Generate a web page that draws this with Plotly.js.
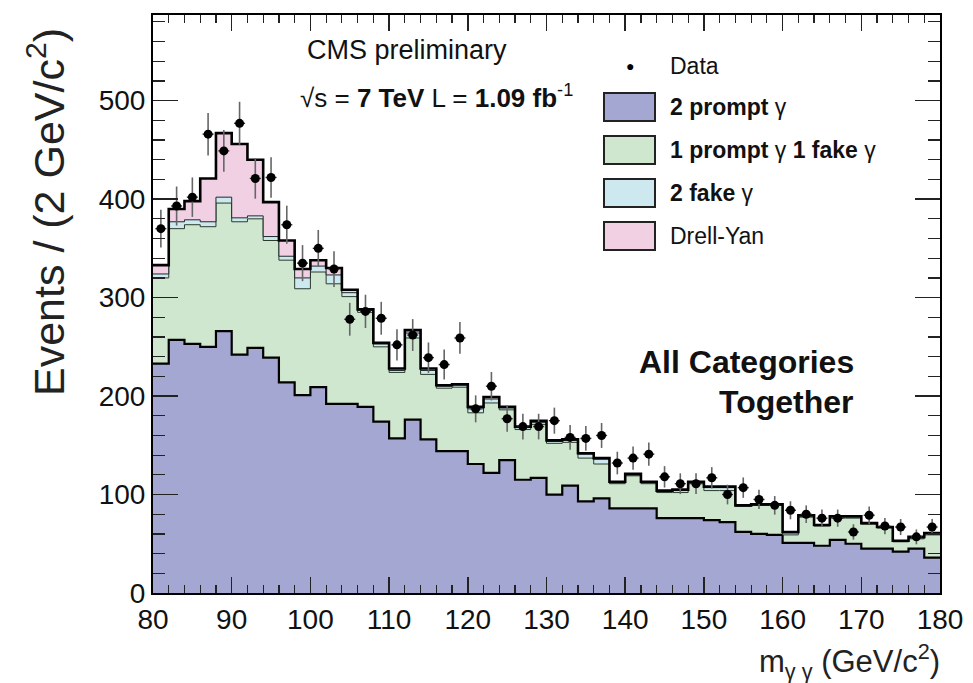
<!DOCTYPE html>
<html>
<head>
<meta charset="utf-8">
<script src="https://cdn.plot.ly/plotly-3.0.1.min.js"></script>
<style>html,body{margin:0;padding:0;background:#fff;}#chart{width:973px;height:683px;}</style>
</head>
<body>
<div id="chart"></div>
<script>
// Bin left edges (GeV/c^2), 2 GeV bins from 80 to 180
const binLow = [80,82,84,86,88,90,92,94,96,98,100,102,104,106,108,110,112,114,116,118,120,122,124,126,128,130,132,134,136,138,140,142,144,146,148,150,152,154,156,158,160,162,164,166,168,170,172,174,176,178];
const binWidth = 2;

// Stacked components (events per bin)
const twoPrompt = [233,257,253,250,266,242,249,239,214,201,209,192,192,189,174,157,176,156,144,144,131,122,135,115,117,100,109,93,96,86,86,86,76,76,76,74,72,62,60,59,51,51,48,54,50,45,45,42,45,36];
const onePromptOneFake = [87,113,121,122,130,135,131,119,124,108,117,122,109,96,76,67,83,66,64,65,52,71,51,51,54,52,44,44,35,25,33,25,26,26,35,30,32,26,29,30,8,26,20,22,26,25,21,10,10,23];
const twoFake = [4,7,5,5,6,4,3,4,4,11,6,9,4,2,3,2,5,4,2,2,4,4,2,2,2,2,2,4,5,1,1,1,1,2,1,3,3,1,1,1,2,1,1,1,1,1,1,1,1,1];
const drellYan = [9,13,19,44,65,75,57,35,16,9,6,7,3,1,1,2,3,2,1,1,2,2,1,1,2,1,1,1,1,1,1,1,1,1,1,1,1,0,0,0,1,1,0,1,1,0,0,0,1,1];

// Observed data
const dataCounts = [370,393,402,466,449,477,421,422,374,335,350,329,278,286,279,252,262,239,232,259,187,210,177,169,169,175,158,157,160,132,137,141,118,111,111,117,100,107,95,89,84,80,76,76,62,79,68,67,57,67];

// Legend / text labels
const legendLabels = ["Data","<b>2 prompt</b> γ","<b>1 prompt</b> γ <b>1 fake</b> γ","<b>2 fake</b> γ","Drell-Yan"];

const FONT = "Liberation Sans, Arial, Helvetica, sans-serif";
const colors = {blue:"#a4a7d1", green:"#cfe7cf", cyan:"#cde9ef", pink:"#f2d0e4"};

// cumulative stacks
function cum(...arrs){ return arrs[0].map((_,i)=>arrs.reduce((s,a)=>s+a[i],0)); }
const lvl1 = cum(twoPrompt);
const lvl2 = cum(twoPrompt,onePromptOneFake);
const lvl3 = cum(twoPrompt,onePromptOneFake,twoFake);
const lvl4 = cum(twoPrompt,onePromptOneFake,twoFake,drellYan);

const stepX = binLow.concat([binLow[binLow.length-1]+binWidth]);
function stepY(a){ return a.concat([a[a.length-1]]); }
const centers = binLow.map(v=>v+binWidth/2);

const traces = [
  {x:stepX, y:stepY(lvl1), mode:'lines', line:{shape:'hv', color:'#000', width:2.2}, fill:'tozeroy', fillcolor:colors.blue, showlegend:false, hoverinfo:'skip'},
  {x:stepX, y:stepY(lvl2), mode:'lines', line:{shape:'hv', color:'#2a3a2a', width:1}, fill:'tonexty', fillcolor:colors.green, showlegend:false, hoverinfo:'skip'},
  {x:stepX, y:stepY(lvl3), mode:'lines', line:{shape:'hv', color:'#1a2a2a', width:1}, fill:'tonexty', fillcolor:colors.cyan, showlegend:false, hoverinfo:'skip'},
  {x:stepX, y:stepY(lvl4), mode:'lines', line:{shape:'hv', color:'#000', width:2.6}, fill:'tonexty', fillcolor:colors.pink, showlegend:false, hoverinfo:'skip'},
  {x:centers, y:dataCounts, mode:'markers', marker:{color:'#000', size:9, symbol:'circle'},
   error_y:{type:'sqrt', color:'#666', thickness:1.6, width:0},
   error_x:{type:'constant', value:0.7, color:'#333', thickness:1.4, width:0},
   showlegend:false}
];

function px(x){ return (x-153)/787; }
function py(y){ return (593-y)/578; }

const swatchY = [107,150,193,236];
const swatchColors = [colors.blue, colors.green, colors.cyan, colors.pink];
const shapes = swatchY.map((cy,i)=>({type:'rect', xref:'paper', yref:'paper',
  x0:px(604), x1:px(655), y0:py(cy+14), y1:py(cy-14),
  fillcolor:swatchColors[i], line:{color:'#222', width:2}}));

function ann(text, x, y, size, opts){
  return Object.assign({text:text, x:px(x), y:py(y), xref:'paper', yref:'paper', showarrow:false,
    xanchor:'left', yanchor:'middle', font:{family:FONT, size:size, color:'#111'}}, opts||{});
}

const annotations = [
  ann('CMS preliminary', 407, 50, 27, {xanchor:'center'}),
  ann('√s = <b>7 TeV</b> L = <b>1.09 fb</b><sup>-1</sup>', 298, 97, 26),
  ann('●', 630, 66, 14, {xanchor:'center', font:{family:FONT,size:14,color:'#000'}}),
  ann(legendLabels[0], 668, 66, 23),
  ann(legendLabels[1], 668, swatchY[0], 23),
  ann(legendLabels[2], 668, swatchY[1], 23),
  ann(legendLabels[3], 668, swatchY[2], 23),
  ann(legendLabels[4], 668, swatchY[3], 23),
  ann('<b>All Categories</b>', 856, 362, 32, {xanchor:'right'}),
  ann('<b>Together</b>', 856, 402, 32, {xanchor:'right'}),
  ann('Events / (2 GeV/c<sup>2</sup>)', 46, 212, 43, {xanchor:'center', textangle:-90, font:{family:FONT,size:43,color:'#222'}}),
  ann('m<sub>γ γ</sub> (GeV/c<sup>2</sup>)', 942, 661, 31, {xanchor:'right', font:{family:FONT,size:31,color:'#222'}})
];

const layout = {
  width:973, height:683,
  margin:{l:153, r:33, t:15, b:90},
  paper_bgcolor:'#fff', plot_bgcolor:'#fff',
  showlegend:false,
  xaxis:{range:[80,180], tick0:80, dtick:10, ticks:'inside', ticklen:16, tickwidth:1.5, tickcolor:'#222',
    minor:{dtick:2, ticks:'inside', ticklen:8, tickwidth:1.2, tickcolor:'#222', showgrid:false},
    showline:true, linecolor:'#000', linewidth:2, mirror:'allticks', showgrid:false, zeroline:false,
    tickfont:{family:FONT, size:28, color:'#111'}},
  yaxis:{range:[0,587], tick0:0, dtick:100, ticks:'inside', ticklen:25, tickwidth:1.5, tickcolor:'#222',
    minor:{dtick:20, ticks:'inside', ticklen:12, tickwidth:1.2, tickcolor:'#222', showgrid:false},
    showline:true, linecolor:'#000', linewidth:2, mirror:'allticks', showgrid:false, zeroline:false,
    tickfont:{family:FONT, size:28, color:'#111'}},
  shapes:shapes,
  annotations:annotations
};

Plotly.newPlot('chart', traces, layout, {staticPlot:true, displayModeBar:false});
</script>
</body>
</html>
